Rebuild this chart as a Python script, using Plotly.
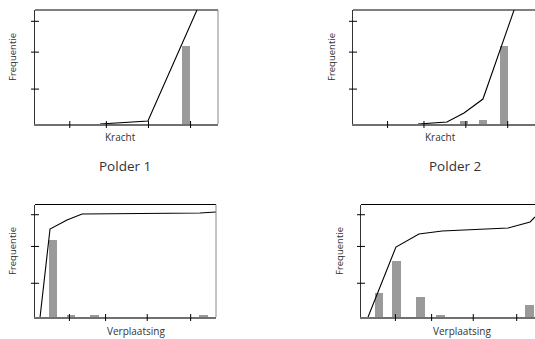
import plotly.graph_objects as go

W, H = 535, 339

# ---- data (x on a 0-100 scale of each panel's axis, y in % of top tick) ----
kracht_ticks = [19, 39, 62, 85]
verpl_ticks = [19, 39, 62, 86]
y_ticks_top = [34, 70, 100]
y_ticks_bot = [33, 69, 100]

# Polder 1 - Kracht
p1_line_x = [35.5, 61.7, 88.5]
p1_line_y = [0, 2.9, 111]
p1_bar_x = [82.5]
p1_bar_y = [76]

# Polder 2 - Kracht
p2_line_x = [35.7, 51.6, 61.0, 71.4, 88.5]
p2_line_y = [0, 1.9, 10.7, 24.3, 111]
p2_bar_x = [61.0, 71.4, 83.0]
p2_bar_y = [2.9, 3.9, 76]

# Polder 1 - Verplaatsing
p3_line_x = [2.8, 8.3, 17.7, 26.0, 91.2, 100]
p3_line_y = [0, 86.0, 94.8, 100.7, 101.7, 102.6]
p3_bar_x = [9.9, 19.9, 32.9, 93.1]
p3_bar_y = [76.2, 2.9, 2.0, 2.9]

# Polder 2 - Verplaatsing
p4_line_x = [3.9, 19.3, 32.0, 44.8, 81.2, 93.4, 96.1]
p4_line_y = [0, 68.4, 81.1, 84.1, 87.0, 92.9, 97.8]
p4_bar_x = [9.9, 19.6, 32.9, 43.9, 93.1]
p4_bar_y = [23.5, 55.7, 20.5, 2.9, 12.7]

panels = [
    dict(lx=p1_line_x, ly=p1_line_y, bx=p1_bar_x, by=p1_bar_y, xt=kracht_ticks, yt=y_ticks_top,
         xd=(35, 218), yd=(10, 124), xr=[0, 100], yr=[0, 111], right=True),
    dict(lx=p2_line_x, ly=p2_line_y, bx=p2_bar_x, by=p2_bar_y, xt=kracht_ticks, yt=y_ticks_top,
         xd=(353, 535), yd=(10, 124), xr=[0, 100], yr=[0, 111], right=False),
    dict(lx=p3_line_x, ly=p3_line_y, bx=p3_bar_x, by=p3_bar_y, xt=verpl_ticks, yt=y_ticks_bot,
         xd=(35, 216), yd=(204.5, 317), xr=[0, 100], yr=[0, 110], right=True),
    dict(lx=p4_line_x, ly=p4_line_y, bx=p4_bar_x, by=p4_bar_y, xt=verpl_ticks, yt=y_ticks_bot,
         xd=(361, 535), yd=(204.5, 317), xr=[0, 96.1], yr=[0, 110], right=False),
]

fig = go.Figure()
shapes = []
layout = {}
for i, p in enumerate(panels, start=1):
    xa = "x" if i == 1 else f"x{i}"
    ya = "y" if i == 1 else f"y{i}"
    xkey = "xaxis" if i == 1 else f"xaxis{i}"
    ykey = "yaxis" if i == 1 else f"yaxis{i}"
    fig.add_trace(go.Bar(x=p["bx"], y=p["by"], width=4.6, marker=dict(color="#9a9a9a", line=dict(width=0)),
                         xaxis=xa, yaxis=ya, showlegend=False, hoverinfo="skip"))
    fig.add_trace(go.Scatter(x=p["lx"], y=p["ly"], mode="lines", line=dict(color="black", width=1.1),
                             xaxis=xa, yaxis=ya, showlegend=False, hoverinfo="skip"))
    layout[xkey] = dict(domain=[p["xd"][0] / W, p["xd"][1] / W], range=p["xr"], anchor=ya,
                        showgrid=False, zeroline=False, showticklabels=False, ticks="",
                        showline=True, linecolor="#707070", linewidth=1.6, fixedrange=True)
    layout[ykey] = dict(domain=[1 - p["yd"][1] / H, 1 - p["yd"][0] / H], range=p["yr"], anchor=xa,
                        showgrid=False, zeroline=False, showticklabels=False, ticks="",
                        showline=True, linecolor="#333333", linewidth=1, fixedrange=True)
    # top border
    shapes.append(dict(type="line", xref=f"{xa} domain", yref=f"{ya} domain", x0=0, x1=1, y0=1, y1=1,
                       line=dict(color="black", width=1)))
    if p["right"]:
        shapes.append(dict(type="line", xref=f"{xa} domain", yref=f"{ya} domain", x0=1, x1=1, y0=0, y1=1,
                           line=dict(color="#888888", width=1)))
    # crossing ticks
    for tv in p["xt"]:
        shapes.append(dict(type="line", xref=xa, yref=f"{ya} domain", x0=tv, x1=tv,
                           ysizemode="pixel", yanchor=0, y0=-4, y1=3,
                           line=dict(color="black", width=1)))
    for tv in p["yt"]:
        shapes.append(dict(type="line", xref=f"{xa} domain", yref=ya, y0=tv, y1=tv,
                           xsizemode="pixel", xanchor=0, x0=-4, x1=4,
                           line=dict(color="black", width=1)))

font = "Open Sans"
ann = []
def txt(t, x, y, size, angle=0):
    ann.append(dict(text=t, x=x / W, y=1 - y / H, xref="paper", yref="paper", showarrow=False,
                    textangle=angle, font=dict(family=font, size=size, color="#333333"),
                    xanchor="center", yanchor="middle"))

txt("Frequentie", 12, 57, 9.5, -90)
txt("Frequentie", 331, 57, 9.5, -90)
txt("Frequentie", 12, 251, 9.5, -90)
txt("Frequentie", 339, 251, 9.5, -90)
txt("Kracht", 120, 137, 10)
txt("Kracht", 440, 137, 10)
txt("Verplaatsing", 136, 331, 10)
txt("Verplaatsing", 462, 331, 10)
txt("Polder 1", 124.5, 165.5, 13.5)
txt("Polder 2", 454.5, 165.5, 13.5)

fig.update_layout(width=W, height=H, margin=dict(l=0, r=0, t=0, b=0),
                  paper_bgcolor="white", plot_bgcolor="white",
                  shapes=shapes, annotations=ann, bargap=0, **layout)

fig.write_html("out.html", config={"displayModeBar": False},
               post_script="document.body.style.margin='0';document.body.style.overflow='hidden';")
